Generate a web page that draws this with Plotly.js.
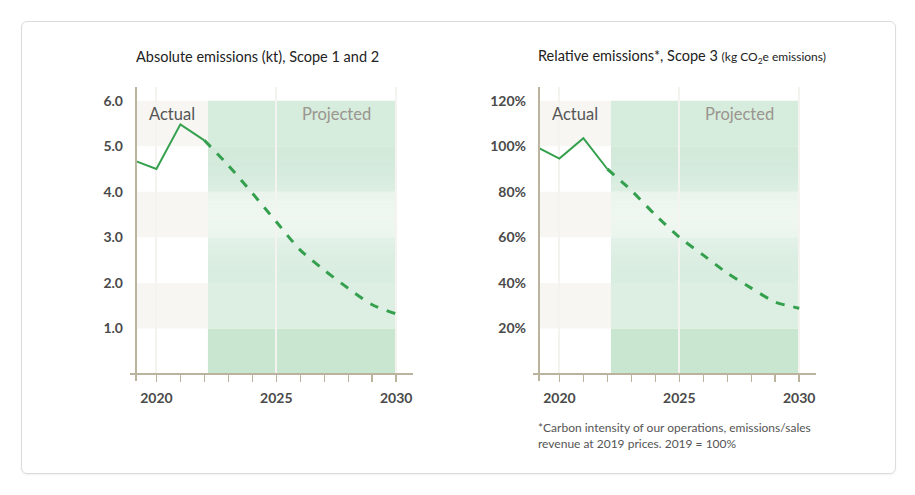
<!DOCTYPE html>
<html>
<head>
<meta charset="utf-8">
<script src="https://cdn.plot.ly/plotly-3.0.1.min.js"></script>
<style>
  html, body { margin: 0; padding: 0; background: #ffffff; }
  #wrap { position: relative; width: 915px; height: 495px; }
  #card { position: absolute; left: 21px; top: 21px; width: 873px; height: 451px;
          border: 1px solid #dcdcdc; border-radius: 6px; box-shadow: 0 1px 2px rgba(0,0,0,0.06); }
  #chart { position: absolute; left: 0; top: 0; width: 915px; height: 495px; }
</style>
</head>
<body>
<div id="wrap"><div id="card"></div><div id="chart"></div></div>
<script>
// ---------- data ----------
const actualYears = [2019, 2020, 2021, 2022];
const projYears = [2022, 2023, 2024, 2025, 2026, 2027, 2028, 2029, 2030];

const absActual = [4.70, 4.50, 5.48, 5.13];            // kt, Scope 1 and 2
const absProjected = [5.13, 4.58, 3.97, 3.34, 2.72, 2.28, 1.88, 1.52, 1.32];

const relActual = [100, 94.6, 103.5, 90.0];            // %, Scope 3
const relProjected = [90.0, 80.6, 69.8, 60.1, 52.2, 44.3, 37.7, 31.6, 28.9];

const xTickVals = [2020, 2025, 2030];
const xTickText = ['2020', '2025', '2030'];
const absTickVals = [1, 2, 3, 4, 5, 6];
const absTickText = ['1.0', '2.0', '3.0', '4.0', '5.0', '6.0'];
const relTickVals = [20, 40, 60, 80, 100, 120];
const relTickText = ['20%', '40%', '60%', '80%', '100%', '120%'];

const title1 = 'Absolute emissions (kt), Scope 1 and 2';
const title2 = 'Relative emissions*, Scope 3 <span style="font-size:12px">(kg CO<sub>2</sub>e emissions)</span>';
const footnote = '*Carbon intensity of our operations, emissions/sales<br>revenue at 2019 prices. 2019 = 100%';
const labelActual = 'Actual';
const labelProjected = 'Projected';

// ---------- styling / layout helpers ----------
const W = 915, H = 495;
const px = v => v / W;
const py = v => 1 - v / H;
const FONT = 'Lato, "Open Sans", sans-serif';
const GREEN = '#34a04d';
const AXIS = '#bab49f';
const xStart = 2019.15, xEnd = 2030.7;
const projStart = 2022.15, projEnd = 2030;
const beige = '#f7f6f2';
const projBandColors = ['#c9e6d0', '#dcefe2', '#d9ede0', '#e3f1e6', '#d3eadb', '#d6ecdc'];

function traces(xa, ya, act, proj) {
  return [
    { x: actualYears, y: act, xaxis: xa, yaxis: ya, type: 'scatter', mode: 'lines',
      line: { color: GREEN, width: 2 }, hoverinfo: 'skip', showlegend: false },
    { x: projYears, y: proj, xaxis: xa, yaxis: ya, type: 'scatter', mode: 'lines',
      line: { color: GREEN, width: 3, dash: '9px,9px', shape: 'spline', smoothing: 0.7 },
      hoverinfo: 'skip', showlegend: false }
  ];
}

function bandShapes(xr, yr, unit) {
  const s = [];
  for (let k = 0; k < 6; k++) {
    const y0 = k * unit, y1 = (k + 1) * unit;
    if (k === 1 || k === 3 || k === 5) {
      s.push({ type: 'rect', xref: xr, yref: yr, x0: xStart, x1: projStart, y0: y0, y1: y1,
               fillcolor: beige, line: { width: 0 }, layer: 'below' });
    }
    s.push({ type: 'rect', xref: xr, yref: yr, x0: projStart, x1: projEnd, y0: y0, y1: y1,
             fillcolor: projBandColors[k], line: { width: 0 }, layer: 'below' });
  }
  // soft light glow in the middle of the projected area (gradient made of thin strips)
  const step = 0.05;
  for (let v = 1.6; v < 4.9; v += step) {
    const a = 0.42 * Math.exp(-Math.pow((v + step / 2 - 3.45) / 0.75, 2));
    s.push({ type: 'rect', xref: xr, yref: yr, x0: projStart, x1: projEnd,
             y0: v * unit, y1: (v + step) * unit,
             fillcolor: 'rgba(255,255,255,' + a.toFixed(3) + ')', line: { width: 0 }, layer: 'below' });
  }
  return s;
}

function axisLines(left, right) {
  return [
    { type: 'line', xref: 'paper', yref: 'paper', x0: px(left - 6), x1: px(right), y0: py(374), y1: py(374),
      line: { color: AXIS, width: 2 }, layer: 'above' },
    { type: 'line', xref: 'paper', yref: 'paper', x0: px(left), x1: px(left), y0: py(381), y1: py(87),
      line: { color: AXIS, width: 2 }, layer: 'above' }
  ];
}

function xAxis(domain, anchor) {
  return {
    domain: domain, anchor: anchor, range: [xStart, xEnd],
    tickvals: xTickVals, ticktext: xTickText,
    showgrid: true, gridcolor: '#f4f3ef', gridwidth: 2,
    ticks: 'outside', ticklen: 7, tickwidth: 1.5, tickcolor: AXIS,
    minor: { dtick: 1, tick0: 2019, ticks: 'outside', ticklen: 7, tickwidth: 1.5, tickcolor: AXIS, showgrid: false },
    showline: false, zeroline: false, fixedrange: true,
    ticklabelstandoff: 4,
    tickfont: { family: FONT, size: 14, color: '#4a4a4a', weight: 700 }
  };
}

function yAxis(domain, anchor, range, vals, text) {
  return {
    domain: domain, anchor: anchor, range: range,
    tickvals: vals, ticktext: text,
    showgrid: false, zeroline: false, showline: false, ticks: '', fixedrange: true,
    ticklabelstandoff: 12,
    tickfont: { family: FONT, size: 14, color: '#4a4a4a', weight: 700 }
  };
}

const data = [].concat(
  traces('x', 'y', absActual, absProjected),
  traces('x2', 'y2', relActual, relProjected)
);

const yDom = [py(374), py(87)];

const layout = {
  width: W, height: H,
  margin: { l: 0, r: 0, t: 0, b: 0 },
  paper_bgcolor: 'rgba(0,0,0,0)', plot_bgcolor: 'rgba(0,0,0,0)',
  showlegend: false,
  font: { family: FONT },
  xaxis: xAxis([px(136), px(413)], 'y'),
  yaxis: yAxis(yDom, 'x', [0, 6.3], absTickVals, absTickText),
  xaxis2: xAxis([px(539), px(816)], 'y2'),
  yaxis2: yAxis(yDom, 'x2', [0, 126], relTickVals, relTickText),
  shapes: [].concat(
    bandShapes('x', 'y', 1),
    bandShapes('x2', 'y2', 20),
    axisLines(136, 413),
    axisLines(539, 816)
  ),
  annotations: [
    { text: title1, xref: 'paper', yref: 'paper', x: px(134), y: py(57), xanchor: 'left', yanchor: 'middle',
      showarrow: false, font: { family: FONT, size: 14.5, color: '#222' } },
    { text: title2, xref: 'paper', yref: 'paper', x: px(536), y: py(57), xanchor: 'left', yanchor: 'middle',
      showarrow: false, font: { family: FONT, size: 14.5, color: '#222' } },
    { text: labelActual, xref: 'paper', yref: 'paper', x: px(147), y: py(114), xanchor: 'left', yanchor: 'middle',
      showarrow: false, font: { family: FONT, size: 16.5, color: '#555' } },
    { text: labelProjected, xref: 'paper', yref: 'paper', x: px(373), y: py(114), xanchor: 'right', yanchor: 'middle',
      showarrow: false, font: { family: FONT, size: 16.5, color: '#9a958f' } },
    { text: labelActual, xref: 'paper', yref: 'paper', x: px(550), y: py(114), xanchor: 'left', yanchor: 'middle',
      showarrow: false, font: { family: FONT, size: 16.5, color: '#555' } },
    { text: labelProjected, xref: 'paper', yref: 'paper', x: px(776), y: py(114), xanchor: 'right', yanchor: 'middle',
      showarrow: false, font: { family: FONT, size: 16.5, color: '#9a958f' } },
    { text: footnote, xref: 'paper', yref: 'paper', x: px(536), y: py(418), xanchor: 'left', yanchor: 'top',
      align: 'left', showarrow: false, font: { family: FONT, size: 12, color: '#555' } }
  ]
};

Plotly.newPlot('chart', data, layout, { staticPlot: true, displayModeBar: false });
</script>
</body>
</html>
